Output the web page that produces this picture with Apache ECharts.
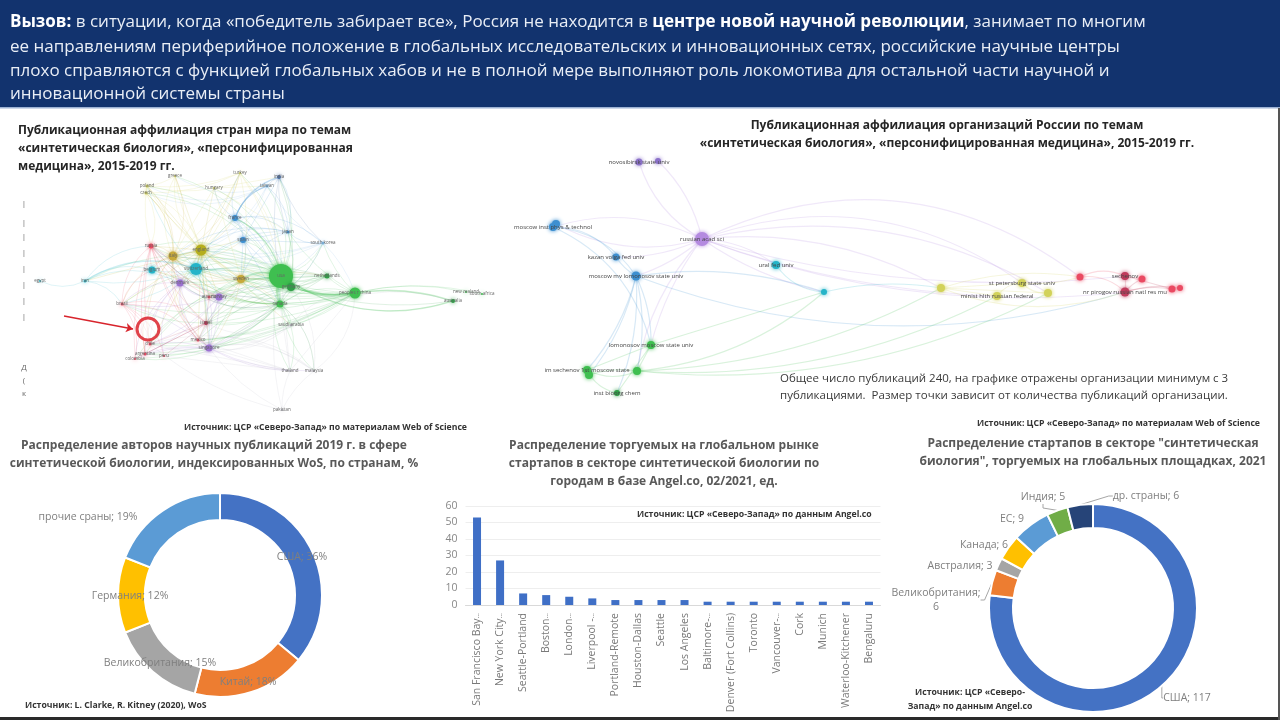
<!DOCTYPE html>
<html><head><meta charset="utf-8">
<style>html,body{margin:0;padding:0;background:#fff}#c{width:1280px;height:720px}</style>
<script src="https://cdn.jsdelivr.net/npm/echarts@6/dist/echarts.min.js"></script>
</head><body><div id="c"></div>
<script>
// ---------- donut 1 ----------
const authorCountries = ['США','Китай','Великобритания','Германия','прочие сраны'];
const authorShares = [36,18,15,12,19];
// ---------- donut 2 ----------
const startupCountries = ['США','Великобритания','Австралия','Канада','ЕС','Индия','др. страны'];
const startupCounts = [117,6,3,6,9,5,6];
// ---------- bars ----------
const cities = ['San Francisco Bay…','New York City…','Seattle-Portland','Boston…','London…','Liverpool -…','Portland-Remote','Houston-Dallas','Seattle','Los Angeles','Baltimore-…','Denver (Fort Collins)','Toronto','Vancouver-…','Cork','Munich','Waterloo-Kitchener','Bengaluru'];
const cityCounts = [53,27,7,6,5,4,3,3,3,3,2,2,2,2,2,2,2,2];
const barTicks = [0,10,20,30,40,50,60];
// ---------- country network ----------
const worldNames = ['usa','peoples r china','germany','canada','netherlands','australia','new zealand','south africa','france','spain','japan','south korea','india','taiwan','england','italy','sweden','poland','czech','hungary','greece','turkey','russia','brazil','israel','mexico','austria','chile','argentina','colombia','peru','switzerland','belgium','iran','egypt','denmark','norway','singapore','saudi arabia','thailand','malaysia','pakistan'];
const worldX = [281,355,291,280,327,453,466,482,235,243,288,323,279,267,201,173,241,147,146,214,175,240,151,122,206,198,209,150,145,135,164,196,152,85,40,180,219,209,291,290,314,282];
const worldY = [276,293,287,304,276,301,292,294,218,240,232,243,177,186,250,256,279,186,193,188,176,173,246,304,323,340,297,344,354,359,356,269,270,281,281,283,297,348,325,371,371,410];
const worldSize = [24,11,8,7,5,4,2,2,6,6,3,3,4,3,11,9,8,3,3,2,2,2,5,3,4,3,3,3,3,2,2,12,7,3,2,7,7,7,3,2,2,2];
const worldGroup = ['g','g','d','g','d','d','g','g','b','b','b','l','n','l','o','t','t','y','y','y','y','y','r','r','m','r','r','r','r','r','r','c','c','c','c','p','p','p','k','k','k','k'];
const worldLinks = [
 [0,[1,2,3,4,5,8,9,10,11,12,13,14,15,16,17,18,19,20,21,22,23,24,25,26,27,28,29,31,32,33,35,36,37,38,39,40]],
 [1,[2,3,4,5,6,7,10,11,14,16,22,23,24,25,26,27,28,29,31,32,35,36,37,38]],
 [14,[2,3,8,9,15,16,17,18,19,20,21,22,23,24,25,26,27,31,32,33,35,36,37,38]],
 [15,[3,8,9,16,17,18,20,21,22,23,24,25,27,28,31,32,35,36,37]],
 [31,[2,3,8,9,16,17,22,23,24,26,32,33,35,36,37]],
 [35,[3,22,23,24,25,26,27,28,29,30,36,37]],
 [36,[2,3,22,23,24,25,26,27,28,37]],
 [37,[2,3,23,24,25,26,27,28,29,30,39,40]],
 [8,[2,3,9,10,11,12,13,16,19,21]],
 [9,[2,3,10,11,12,16]],
 [2,[3,4,5,10,11,12,16,24,25,26]],
 [3,[1,4,14,15,16,22,23,24,25,26,27,28,29,31,35,38,39,40]],
 [4,[14,15,16,24,31,35,36,37]],
 [16,[2,3,4,22,24,26,31,32,35,36,37]],
 [10,[11,12,13,14,15,16,31]],
 [11,[0,1,2,13,14,15,31]],
 [13,[14,15,17,18,20]],
 [21,[0,2,14,15,16,17,18]],
 [19,[10,12,13,15,16]],
 [20,[14,15,16]],
 [18,[14,15,22]],
 [22,[24,25,26,27,28,29,31,32,35,36,37]],
 [38,[1,5,24,25,27,37]],
 [39,[0,1,3,25,27,28,37]],
 [40,[0,1,3,25,27,37]],
 [33,[22,23,32,34,35]],
 [23,[22,24,25,27,28,29,30,32]],
 [24,[25,26,27,28,29,30]],
 [41,[0,27,37,39,40]],
 [17,[16,18,19,20,22]],
 [12,[0,10,11,13]]
];
const worldStrong = [[0,1,3],[0,2,3],[0,3,3],[1,5,1.8],[0,5,1.4],[0,8,1.4],[0,16,2.2],[14,31,1.6],[8,12,1.4],[8,13,1.2],[33,31,1.4],[1,2,1.6]];
// ---------- organisation network ----------
const orgNames = ['novosibirsk state univ','tomsk state univ','russian acad sci','moscow inst phys & technol','skolkovo inst','kazan volga fed univ','moscow mv lomonosov state univ','ural fed univ','itmo univ','lomonosov moscow state univ','im sechenov 1st moscow state','first moscow med','moscow state med','inst bioorg chem','hse univ','st petersburg state univ','minist hlth russian federal','pavlov univ','almazov ctr','sechenov','rudn univ','nr pirogov russian natl res mu','rogachev ctr','kulakov ctr'];
const orgShown = [true,false,true,true,false,true,true,true,false,true,true,false,false,true,false,true,true,false,false,true,false,true,false,false];
const orgX = [639,658,702,553,556,616,636,776,824,651,587,589,637,617,941,1022,997,1048,1080,1125,1142,1125,1172,1180];
const orgY = [162,161,239,227,224,257,276,265,292,345,370,375,371,393,288,283,296,293,277,276,279,292,289,288];
const orgSize = [7,6,14,8,8,7,9,8,6,8,8,8,8,6,8,8,8,8,7,8,7,9,7,6];
const orgGroup = ['v','v','u','b','b','b','b','c','c','g','g','g','g','d','y','y','y','y','r','q','r','q','r','r'];
const orgLinks = [
 [2,[0,1,3,4,5,6,7,8,9,12,14,15,16,17,18,19,21]],
 [3,[5,6,9]],
 [6,[5,8,9,10,11,12,13,21]],
 [9,[8,10,12,13]],
 [10,[11,12,13]],
 [12,[8,11,14,16,17]],
 [8,[7,14]],
 [14,[15,16,17,18,21]],
 [15,[16,17,18]],
 [18,[19,21]],
 [19,[20,21,22]],
 [21,[20,22,23]],
 [22,[23]]
];
// ---------- texts ----------
const headerLines = [
 '{b|Вызов:} в ситуации, когда «победитель забирает все», Россия не находится в {b|центре новой научной революции}, занимает по многим',
 'ее направлениям периферийное положение в глобальных исследовательских и инновационных сетях, российские научные центры',
 'плохо справляются с функцией глобальных хабов и не в полной мере выполняют роль локомотива для остальной части научной и',
 'инновационной системы страны'];
const leftTitle = ['Публикационная аффилиация стран мира по темам','«синтетическая биология», «персонифицированная','медицина», 2015-2019 гг.'];
const rightTitle = ['Публикационная аффилиация организаций России по темам','«синтетическая биология», «персонифицированная медицина», 2015-2019 гг.'];
const noteLines = ['Общее число публикаций 240, на графике отражены организации минимум с 3','публикациями.  Размер точки зависит от количества публикаций организации.'];
const donut1Title = ['Распределение авторов научных публикаций 2019 г. в сфере','синтетической биологии, индексированных WoS, по странам, %'];
const barTitle = ['Распределение торгуемых на глобальном рынке','стартапов в секторе синтетической биологии по','городам в базе Angel.co, 02/2021, ед.'];
const donut2Title = ['Распределение стартапов в секторе "синтетическая','биология", торгуемых на глобальных площадках, 2021'];
const sourceWos = 'Источник: ЦСР «Северо-Запад» по материалам Web of Science';
const sourceClarke = 'Источник: L. Clarke, R. Kitney (2020), WoS';
const sourceAngel = 'Источник: ЦСР «Северо-Запад» по данным Angel.co';
const sourceAngelSplit = ['Источник: ЦСР «Северо-','Запад» по данным Angel.co'];
const croppedMarks = ['|','|','|','|','|','|','|','|','Д','(','к'];

// ---------- styling (not data) ----------
const FONT='"Open Sans",sans-serif';
const groupColor={g:'#3fbf50',d:'#2f9e46',b:'#3d8fd0',l:'#7db7e6',n:'#4a6fa8',o:'#b5ae1e',t:'#c7a93a',y:'#d2d25a',r:'#ea4a62',m:'#b03050',c:'#25b4c8',p:'#9a70d0',k:'#b8b8c0',v:'#8a70c8',u:'#b48ae0',q:'#c03a5c'};
const palette=['#4472c4','#ed7d31','#a5a5a5','#ffc000','#5b9bd5','#70ad47','#264478'];
const donut1Pos=[[302,557],[248,682],[160,663],[130,596],[88,517]];
const donut2Pos=[[1187,698],[936,600],[960,566],[984,545],[1012,519],[1043,497],[1146,496]];
const donut2Leader=[true,true,false,false,false,true,true];
const orgBend={'2-18':.3,'2-15':.26,'2-14':.16,'2-17':.2,'2-19':-.1,'2-21':-.12,'2-16':-.08,'6-21':-.17,'12-17':-.15,'12-8':-.16,'12-14':-.12,'12-16':-.14,'2-0':.2,'2-1':-.15,'2-3':-.2,'2-4':.2,'2-5':.12,'2-6':.1,'2-12':-.15,'2-9':-.1,'2-7':.15,'2-8':-.1,'14-21':-.18,'14-18':.12,'15-18':-.1,'8-14':.1};

function txt(text,x,y,font,fill,align){
  return {type:'text',z:10,silent:true,style:{text,x,y,font,fill,align:align||'left',verticalAlign:'middle'}};
}
const g=[];
g.push({type:'rect',z:1,silent:true,shape:{x:0,y:0,width:1280,height:107},style:{fill:'#12336e'}});
g.push({type:'rect',z:1,silent:true,shape:{x:0,y:107,width:1280,height:1.5},style:{fill:'#9db2d4'}});
g.push({type:'rect',z:1,silent:true,shape:{x:0,y:717,width:1280,height:3},style:{fill:'#2a2a2a'}});
g.push({type:'rect',z:1,silent:true,shape:{x:1278,y:108,width:2,height:612},style:{fill:'#555'}});
[22.5,47.5,71.5,94.5].forEach((y,i)=>{
  const t=txt(headerLines[i],10,y,'17px '+FONT,'#e9eef6');
  t.style.rich={b:{font:'bold 17px '+FONT,fill:'#ffffff'}};
  g.push(t);
});
leftTitle.forEach((s,i)=>g.push(txt(s,18,131+i*18,'bold 12px '+FONT,'#262626')));
rightTitle.forEach((s,i)=>g.push(txt(s,947,126+i*18,'bold 12px '+FONT,'#262626','center')));
noteLines.forEach((s,i)=>g.push(txt(s,780,379+i*17,'11.5px '+FONT,'#3a3a3a')));
donut1Title.forEach((s,i)=>g.push(txt(s,214,446+i*18,'bold 12px '+FONT,'#595959','center')));
barTitle.forEach((s,i)=>g.push(txt(s,664,446+i*18,'bold 12px '+FONT,'#595959','center')));
donut2Title.forEach((s,i)=>g.push(txt(s,1093,444+i*18,'bold 12px '+FONT,'#595959','center')));
g.push(txt(sourceWos,184,428,'bold 8.7px '+FONT,'#333'));
g.push(txt(sourceWos,977,424,'bold 8.7px '+FONT,'#333'));
g.push(txt(sourceClarke,25,706,'bold 8.7px '+FONT,'#333'));
g.push(txt(sourceAngel,637,515,'bold 8.7px '+FONT,'#333'));
sourceAngelSplit.forEach((s,i)=>g.push(txt(s,970,693+i*14,'bold 8.7px '+FONT,'#333','center')));
[204,223,237,253,269,285,301,317,368,381,394].forEach((y,i)=>g.push(txt(croppedMarks[i],24,y,'8px '+FONT,'#666','center')));

function buildGraph(names,X,Y,S,G,L,shown,xi,yi,op,baseCurve,labelSize,width,strong,bend,labelColor){
  const data=names.map((n,i)=>({name:n,value:[X[i],Y[i]],symbolSize:S[i],
    itemStyle:{color:groupColor[G[i]],shadowBlur:4,shadowColor:groupColor[G[i]]},label:{show:shown?shown[i]:true}}));
  const links=[];
  const line=(s,t,w,o)=>({source:s,target:t,lineStyle:{color:groupColor[G[s]],opacity:o,width:w,
     curveness:bend&&bend[s+'-'+t]!==undefined?bend[s+'-'+t]:((s*3+t*5)%5-2)*baseCurve}});
  L.forEach(([s,ts])=>ts.forEach(t=>links.push(line(s,t,width,op))));
  (strong||[]).forEach(([s,t,w])=>links.push(line(s,t,w,0.22)));
  return {type:'graph',layout:'none',coordinateSystem:'cartesian2d',xAxisIndex:xi,yAxisIndex:yi,data,links,silent:true,animation:false,
    label:{show:true,position:'inside',fontSize:labelSize,fontFamily:FONT,color:labelColor,formatter:'{b}'},
    labelLayout:{hideOverlap:false},z:3};
}
const world=buildGraph(worldNames,worldX,worldY,worldSize,worldGroup,worldLinks,null,1,1,0.15,0.12,4.5,1,worldStrong,null,'#666');
const org=buildGraph(orgNames,orgX,orgY,orgSize,orgGroup,orgLinks,orgShown,2,2,0.2,0.12,6,1.2,null,orgBend,'#444');

function donut(names,vals,center,r,fmt,pos,leader){
  return {type:'pie',center,radius:r,startAngle:90,avoidLabelOverlap:false,animation:false,silent:true,
    data:names.map((n,i)=>({name:n,value:vals[i],itemStyle:{color:palette[i]},labelLine:{show:leader?leader[i]:false}})),
    itemStyle:{borderColor:'#fff',borderWidth:2},
    label:{show:true,formatter:fmt,fontSize:10.5,lineHeight:14,fontFamily:FONT,color:'#7f7f7f',align:'center'},
    labelLine:{length:4,length2:4,lineStyle:{color:'#a6a6a6',width:1}},
    labelLayout:p=>({x:pos[p.dataIndex][0],y:pos[p.dataIndex][1],align:'center',verticalAlign:'middle'}),z:4};
}

const option={
  backgroundColor:'#fff',animation:false,
  graphic:g,
  grid:[
    {left:465.5,top:506,width:415,height:99},
    {left:0,top:110,width:500,height:320,show:false},
    {left:500,top:110,width:780,height:320,show:false}
  ],
  xAxis:[
    {gridIndex:0,type:'category',data:cities,axisTick:{show:false},axisLine:{lineStyle:{color:'#d9d9d9'}},
     axisLabel:{interval:0,rotate:90,fontSize:10.5,fontFamily:FONT,color:'#7a7a7a',margin:8,
       formatter:v=>v.endsWith('…')?v.slice(0,-1)+'{e|…}':v,rich:{e:{fontSize:7,color:'#7a7a7a'}}}},
    {gridIndex:1,type:'value',min:0,max:500,show:false},
    {gridIndex:2,type:'value',min:500,max:1280,show:false}
  ],
  yAxis:[
    {gridIndex:0,type:'value',min:0,max:60,interval:10,axisLine:{show:false},axisTick:{show:false},
     splitLine:{lineStyle:{color:'#eeeeee'}},axisLabel:{fontSize:10.5,fontFamily:FONT,color:'#888',margin:8,
       formatter:v=>barTicks.includes(v)?String(v):''}},
    {gridIndex:1,type:'value',min:110,max:430,inverse:true,show:false},
    {gridIndex:2,type:'value',min:110,max:430,inverse:true,show:false}
  ],
  series:[
    world,org,
    {type:'scatter',xAxisIndex:1,yAxisIndex:1,silent:true,z:6,symbolSize:22,
     data:[[148,329]],itemStyle:{color:'rgba(255,255,255,0.6)',borderColor:'#d8141e',borderWidth:3},
     markLine:{silent:true,symbol:['none','arrow'],symbolSize:7,label:{show:false},
       lineStyle:{color:'#d8242c',width:1.5,type:'solid'},
       data:[[{coord:[64,316]},{coord:[133,329]}]]}},
    {type:'bar',xAxisIndex:0,yAxisIndex:0,data:cityCounts,barWidth:8,itemStyle:{color:'#3f6fc6'},silent:true,z:4},
    donut(authorCountries,authorShares,[220,595],[75,102],'{b}; {c}%',donut1Pos,null),
    donut(startupCountries,startupCounts,[1093,608],[80,104],p=>p.name.length>10?p.name+';\n'+p.value:p.name+'; '+p.value,donut2Pos,donut2Leader)
  ]
};
const chart=echarts.init(document.getElementById('c'),null,{renderer:'canvas',width:1280,height:720});
chart.setOption(option);
</script></body></html>
